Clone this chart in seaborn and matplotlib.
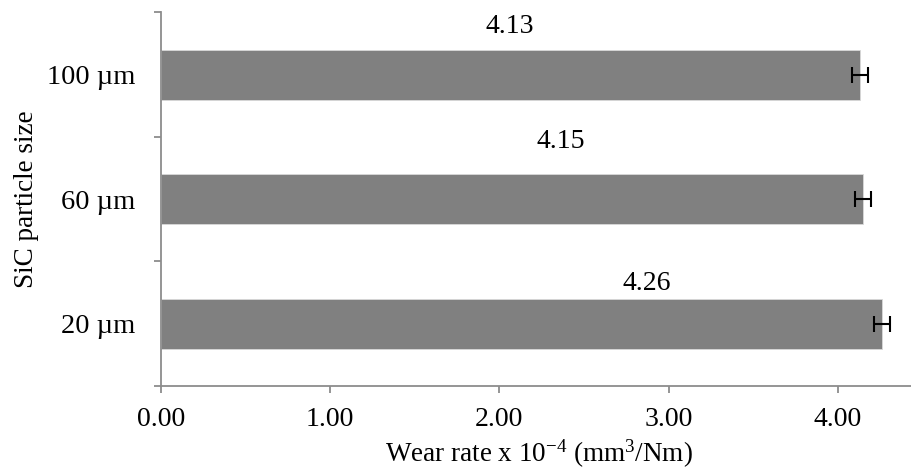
import matplotlib
matplotlib.use("Agg")
import matplotlib.pyplot as plt
import seaborn as sns
import pandas as pd

sizes = ["100 µm", "60 µm", "20 µm"]
wear_rate = [4.13, 4.15, 4.26]
wear_err = [0.047, 0.046, 0.047]
value_labels = ["4.13", "4.15", "4.26"]

sns.set_theme(style="white")
plt.rcParams['font.family'] = ['Liberation Serif', 'DejaVu Serif']
plt.rcParams['mathtext.fontset'] = 'custom'
plt.rcParams['mathtext.rm'] = 'Liberation Serif'
plt.rcParams['mathtext.it'] = 'Liberation Serif:italic'

df = pd.DataFrame({"size": sizes, "rate": wear_rate})

fig = plt.figure(figsize=(9.11, 4.73), dpi=100)
ax = fig.add_axes([0.1764, 0.184, 1.0 - 0.1764, 0.9736 - 0.184])

sns.barplot(data=df, x="rate", y="size", order=sizes, orient="h",
            color="#808080", saturation=1, width=0.4, ax=ax,
            edgecolor="#d9d9d9", linewidth=0.6)

ax.errorbar(wear_rate, range(len(sizes)), xerr=wear_err, fmt="none",
            ecolor="black", elinewidth=1.5, capsize=5.5, capthick=1.5)

# data labels (positioned as in the original)
label_pos = [(2.06, -0.39), (2.365, 0.54), (2.87, 1.68)]
for txt, (lx, ly) in zip(value_labels, label_pos):
    ax.text(lx, ly, txt, ha="center", va="center", fontsize=20, color="black")

ax.set_xlim(0, 4.432)
ax.set_ylim(2.5, -0.5)
ax.set_xticks([0, 1, 2, 3, 4])
ax.set_xticklabels(["0.00", "1.00", "2.00", "3.00", "4.00"])
ax.set_yticks(range(len(sizes)))
ax.set_yticklabels(sizes)
ax.set_yticks([-0.5, 0.5, 1.5, 2.5], minor=True)

spine_c = "#8c8c8c"
for s in ["top", "right"]:
    ax.spines[s].set_visible(False)
for s in ["left", "bottom"]:
    ax.spines[s].set_color(spine_c)
    ax.spines[s].set_linewidth(1.3)

ax.tick_params(axis="x", which="major", length=5, width=1.3, color=spine_c,
               direction="out", labelsize=20, pad=10, labelcolor="black", bottom=True)
ax.tick_params(axis="y", which="major", length=0, labelsize=20.5, pad=18, labelcolor="black")
ax.tick_params(axis="y", which="minor", length=5, width=1.3, color=spine_c,
               direction="out", left=True)

ax.set_xlabel("Wear rate x 10$^{\\mathrm{-4}}$ (mm$^{\\mathrm{3}}$/Nm)", fontsize=19.5, color="black")
ax.set_ylabel("SiC particle size", fontsize=19.5, color="black", labelpad=6)
ax.xaxis.set_label_coords((539 - 160.7) / (911 - 160.7), -(438 - 386) / (386 - 12.5))

fig.savefig("out.png", dpi=100)
